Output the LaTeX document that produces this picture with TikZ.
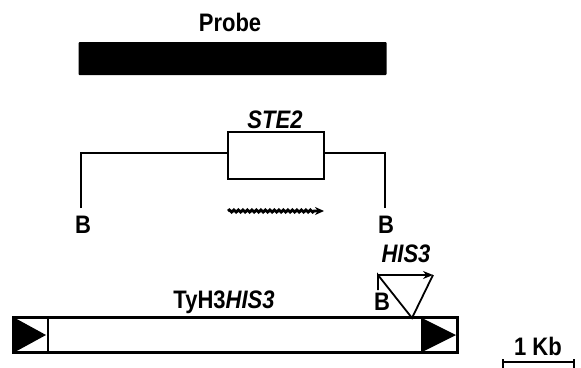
\documentclass[tikz,border=0pt]{standalone}
\usepackage{fontspec}
\usepackage{graphicx}
\setmainfont{Liberation Sans}
\usetikzlibrary{decorations.pathmorphing,arrows.meta}
\newcommand\tallt[1]{\scalebox{1}[1.15]{#1}}
\begin{document}
\begin{tikzpicture}[x=1pt,y=-1pt,
  lbl/.style={font=\fontsize{22}{25}\selectfont\bfseries, inner sep=0pt},
  ln/.style={line width=2.2pt, line join=miter},
  thin/.style={line width=1.8pt}]
\useasboundingbox (0,0) rectangle (581,367);
% Probe
\node[lbl] (probe) at (230,22) {\tallt{Probe}};
\node[fill=black, rounded corners=1pt, minimum width=308pt, minimum height=33pt, inner sep=0pt] (bar) at (232.5,58.5) {};
% STE2 fragment
\node[lbl] (ste) at (275,120) {\tallt{\itshape STE2}};
\node[draw, ln, minimum width=96pt, minimum height=47pt, inner sep=0pt] (gene) at (276,155.5) {};
\coordinate (lt) at (81,153);
\coordinate (lb) at (81,208);
\coordinate (rt) at (385,153);
\coordinate (rb) at (385,208);
\draw[ln] (lb) -- (lt) -- (gene.west |- lt);
\draw[ln] (rb) -- (rt) -- (gene.east |- rt);
\node[lbl] (b1) at (83,225) {\tallt{B}};
\node[lbl] (b2) at (386,225) {\tallt{B}};
\coordinate (w1) at (228,211);
\coordinate (w2) at (324,211);
\draw[line width=2.8pt, decorate, decoration={snake, segment length=4.5pt, amplitude=1.1pt, post length=9pt}, -{Stealth[length=9pt,width=8pt]}] (w1) -- (w2);
% TyH3HIS3
\node[lbl] (ty) at (224,302) {\tallt{TyH3\itshape HIS3}};
\node[draw, ln, fill=white, minimum width=443pt, minimum height=34pt, inner sep=0pt] (ty3) at (235.5,335) {};
\coordinate (d1t) at (48,318);
\coordinate (d1b) at (48,352);
\coordinate (d2t) at (422,318);
\coordinate (d2b) at (422,352);
\draw[thin] (d1t) -- (d1b);
\draw[thin] (d2t) -- (d2b);
\fill (ty3.north west) -- (ty3.south west) -- (46,335) -- cycle;
\fill (d2t) -- (d2b) -- (456,335) -- cycle;
\draw[ln] (ty3.north west) rectangle (ty3.south east);
% HIS3 insertion
\coordinate (tl) at (378,275);
\coordinate (tr) at (433,275);
\coordinate (apex) at (412,318);
\coordinate (tick) at (378,290);
\draw[thin] (tick) -- (tl) -- (apex) -- (tr);
\draw[thin, -{Stealth[length=10pt,width=8pt]}] (tl) -- (tr);
\node[lbl] (bh) at (382,302) {\tallt{B}};
\node[lbl] (his) at (406,254) {\tallt{\itshape HIS3}};
% scale bar
\node[lbl] (kb) at (538,346) {\tallt{1 Kb}};
\coordinate (s1) at (503,362);
\coordinate (s2) at (574,362);
\draw[thin] ([yshift=3pt]s1) -- ([yshift=-6pt]s1);
\draw[thin] ([yshift=3pt]s2) -- ([yshift=-6pt]s2);
\draw[thin] (s1) -- (s2);
\end{tikzpicture}
\end{document}
